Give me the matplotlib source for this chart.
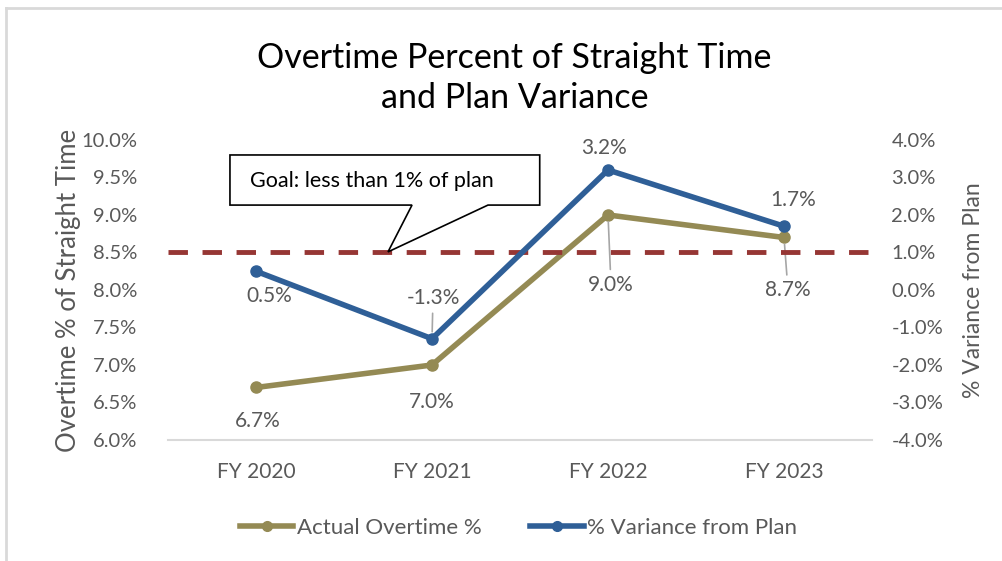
import matplotlib
matplotlib.use('Agg')
from matplotlib import pyplot as plt
from matplotlib.lines import Line2D
from matplotlib.patches import Polygon
from matplotlib.ticker import FuncFormatter

years = ['FY 2020', 'FY 2021', 'FY 2022', 'FY 2023']
actual_ot = [6.7, 7.0, 9.0, 8.7]
variance = [0.5, -1.3, 3.2, 1.7]
goal = 1.0
left_ticks = [6.0, 6.5, 7.0, 7.5, 8.0, 8.5, 9.0, 9.5, 10.0]
right_ticks = [-4.0, -3.0, -2.0, -1.0, 0.0, 1.0, 2.0, 3.0, 4.0]

OLIVE = '#948A54'
BLUE = '#2F5F97'
RED = '#963634'
GREY = '#595959'

plt.rcParams['font.family'] = ['Lato', 'DejaVu Sans']

fig = plt.figure(figsize=(10.03, 5.61), dpi=100)
ax = fig.add_axes([0.1675, 0.2157, 0.7019, 0.5348])
ax2 = ax.twinx()

x = list(range(len(years)))

ax.plot(x, actual_ot, color=OLIVE, lw=4, marker='o', ms=8, solid_capstyle='round', zorder=3)
ax2.plot(x, variance, color=BLUE, lw=4, marker='o', ms=8, solid_capstyle='round', zorder=3)
ax2.axhline(goal, color=RED, lw=3.5, dashes=(4, 3), zorder=2)

ax.set_xlim(-0.5, 3.5)
ax.set_ylim(6.0, 10.0)
ax2.set_ylim(-4.0, 4.0)
ax.set_xticks(x)
ax.set_xticklabels(years)
ax.set_yticks(left_ticks)
ax2.set_yticks(right_ticks)
ax.yaxis.set_major_formatter(FuncFormatter(lambda v, p: f'{v:.1f}%'))
ax2.yaxis.set_major_formatter(FuncFormatter(lambda v, p: f'{v:.1f}%'))

for a in (ax, ax2):
    for s in ('top', 'left', 'right', 'bottom'):
        a.spines[s].set_visible(False)
    a.tick_params(length=0, labelsize=14.5, colors=GREY)
ax.spines['bottom'].set_visible(True)
ax.spines['bottom'].set_color('#D9D9D9')
ax.spines['bottom'].set_linewidth(1.5)
ax.tick_params(axis='x', pad=16, labelsize=15)
ax.tick_params(axis='y', pad=22)
ax2.tick_params(axis='y', pad=14)

ax.set_ylabel('Overtime % of Straight Time', fontsize=18.5, color=GREY, labelpad=0)
ax2.set_ylabel('% Variance from Plan', fontsize=16.5, color=GREY, labelpad=14)

# data labels (offsets in pixels)
ot_offsets = [(2, -34), (0, -37), (3, -70), (4, -53)]
var_offsets = [(13, -25), (1, 41), (-4, 22), (9, 26)]
ot_leader = [False, False, True, True]
var_leader = [False, True, False, False]
for i, v in enumerate(actual_ot):
    ap = dict(arrowstyle='-', color='#A6A6A6', lw=1.2, shrinkA=2, shrinkB=5) if ot_leader[i] else None
    ax.annotate(f'{v:.1f}%', (x[i], v), xytext=ot_offsets[i], textcoords='offset pixels',
                ha='center', va='center', fontsize=15, color=GREY, arrowprops=ap)
for i, v in enumerate(variance):
    ap = dict(arrowstyle='-', color='#A6A6A6', lw=1.2, shrinkA=2, shrinkB=5) if var_leader[i] else None
    ax2.annotate(f'{v:.1f}%', (x[i], v), xytext=var_offsets[i], textcoords='offset pixels',
                 ha='center', va='center', fontsize=15, color=GREY, arrowprops=ap)

# callout box
callout = [(0.088, 0.95), (0.528, 0.95), (0.528, 0.783), (0.4545, 0.783),
           (0.3125, 0.627), (0.3466, 0.783), (0.088, 0.783)]
ax2.add_patch(Polygon(callout, closed=True, transform=ax2.transAxes, facecolor='white',
                      edgecolor='black', lw=1.2, zorder=5, clip_on=False))
ax2.text(0.1165, 0.862, 'Goal: less than 1% of plan', transform=ax2.transAxes,
         fontsize=15.5, color='black', va='center', ha='left', zorder=6)

fig.text(0.513, 0.861, 'Overtime Percent of Straight Time\nand Plan Variance', ha='center',
         va='center', fontsize=24.5, color='black', linespacing=1.3)

handles = [Line2D([], [], color=OLIVE, lw=4, marker='o', ms=7),
           Line2D([], [], color=BLUE, lw=4, marker='o', ms=7)]
fig.legend(handles, ['Actual Overtime %', '% Variance from Plan'], loc='center',
           bbox_to_anchor=(0.517, 0.059), ncol=2, frameon=False, fontsize=16,
           labelcolor=GREY, handlelength=2.4, handletextpad=0.15, columnspacing=2.2)

# chart border (top and left edges visible)
fig.add_artist(Line2D([0.006, 1.0], [0.985, 0.985], color='#D9D9D9', lw=2, transform=fig.transFigure))
fig.add_artist(Line2D([0.006, 0.006], [0.0, 0.985], color='#D9D9D9', lw=2, transform=fig.transFigure))

fig.savefig('out.png', dpi=100)
